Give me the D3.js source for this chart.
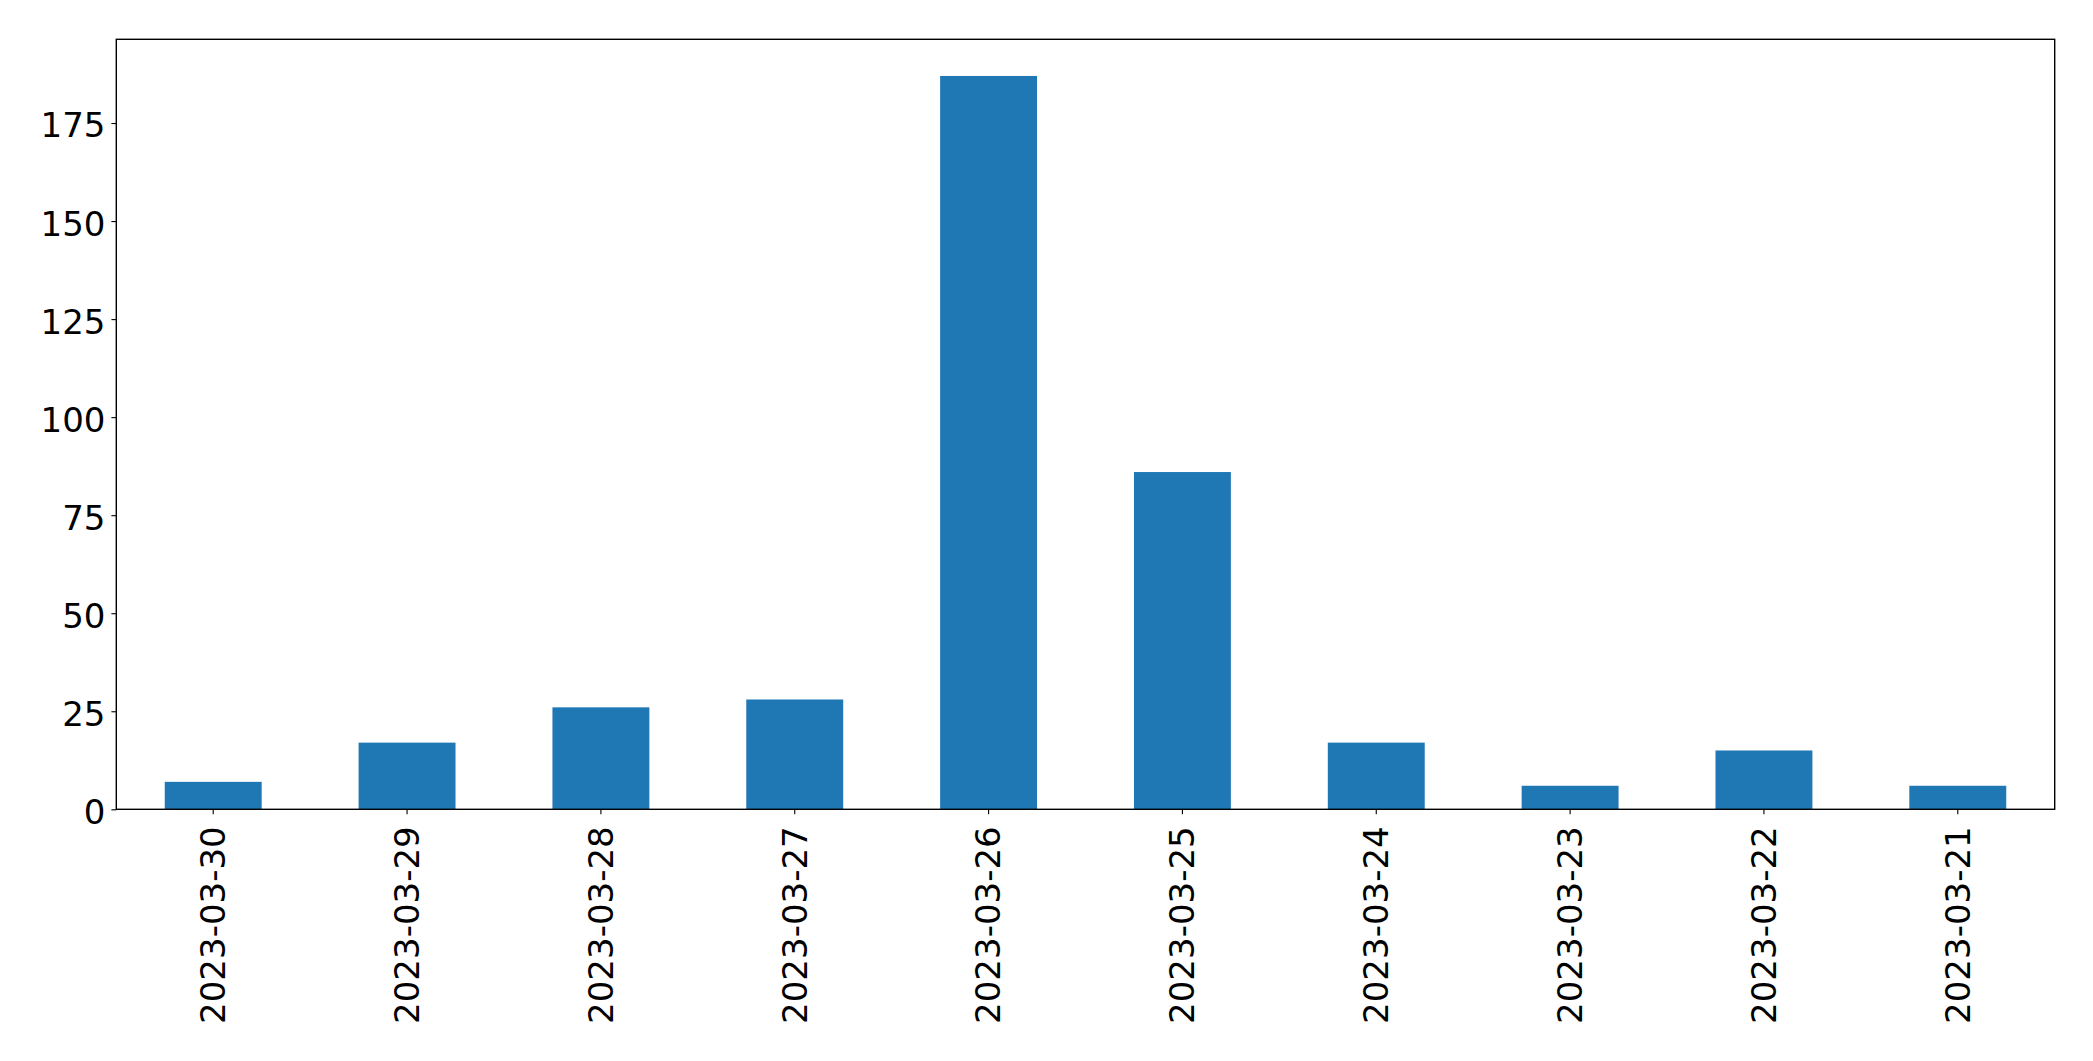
<!DOCTYPE html>
<html><head><meta charset="utf-8">
<script src="https://cdn.jsdelivr.net/npm/d3@7"></script>
<style>body{margin:0;background:#fff}svg{display:block}</style>
</head><body>
<script>
const categories = ["2023-03-30","2023-03-29","2023-03-28","2023-03-27","2023-03-26","2023-03-25","2023-03-24","2023-03-23","2023-03-22","2023-03-21"];
const values = [7, 17, 26, 28, 187, 86, 17, 6, 15, 6];
const yTicks = [0, 25, 50, 75, 100, 125, 150, 175];

const W = 2093, H = 1061;
const m = {left: 116.3, right: W - 2054.7, top: 39.3, bottom: H - 809.3};
const svg = d3.select("body").append("svg").attr("width", W).attr("height", H);
const g = svg.append("g").attr("transform", `translate(${m.left},${m.top})`);
const iw = W - m.left - m.right, ih = H - m.top - m.bottom;

const x = d3.scaleBand().domain(categories).range([0, iw]).paddingInner(0.5).paddingOuter(0.25);
const y = d3.scaleLinear().domain([0, d3.max(values) * 1.05]).range([ih, 0]);

g.selectAll("rect.bar").data(values).join("rect")
  .attr("class","bar")
  .attr("x", (d,i) => x(categories[i]))
  .attr("width", x.bandwidth())
  .attr("y", d => y(d))
  .attr("height", d => ih - y(d))
  .attr("fill", "#1f77b4");

const font = "DejaVu Sans, sans-serif";
const fs = 34;

const ya = g.append("g").call(d3.axisLeft(y).tickValues(yTicks).tickSize(4.9).tickPadding(6));
ya.select(".domain").remove();
ya.selectAll("text").attr("font-family", font).attr("font-size", fs).attr("fill","#000").attr("dy","0.41em");
ya.selectAll("line").attr("stroke","#000").attr("stroke-width",1.1);

const xa = g.append("g").attr("transform",`translate(0,${ih})`).call(d3.axisBottom(x).tickSize(4.9).tickPadding(0));
xa.select(".domain").remove();
xa.selectAll("line").attr("stroke","#000").attr("stroke-width",1.1);
xa.selectAll("text").attr("font-family", font).attr("font-size", fs).attr("fill","#000")
  .attr("transform","rotate(-90)").attr("text-anchor","end")
  .attr("x", -17).attr("y", 0).attr("dy","0.35em");

g.append("rect").attr("x",0).attr("y",0).attr("width",iw).attr("height",ih)
  .attr("fill","none").attr("stroke","#000").attr("stroke-width",1.4);
</script>
</body></html>
